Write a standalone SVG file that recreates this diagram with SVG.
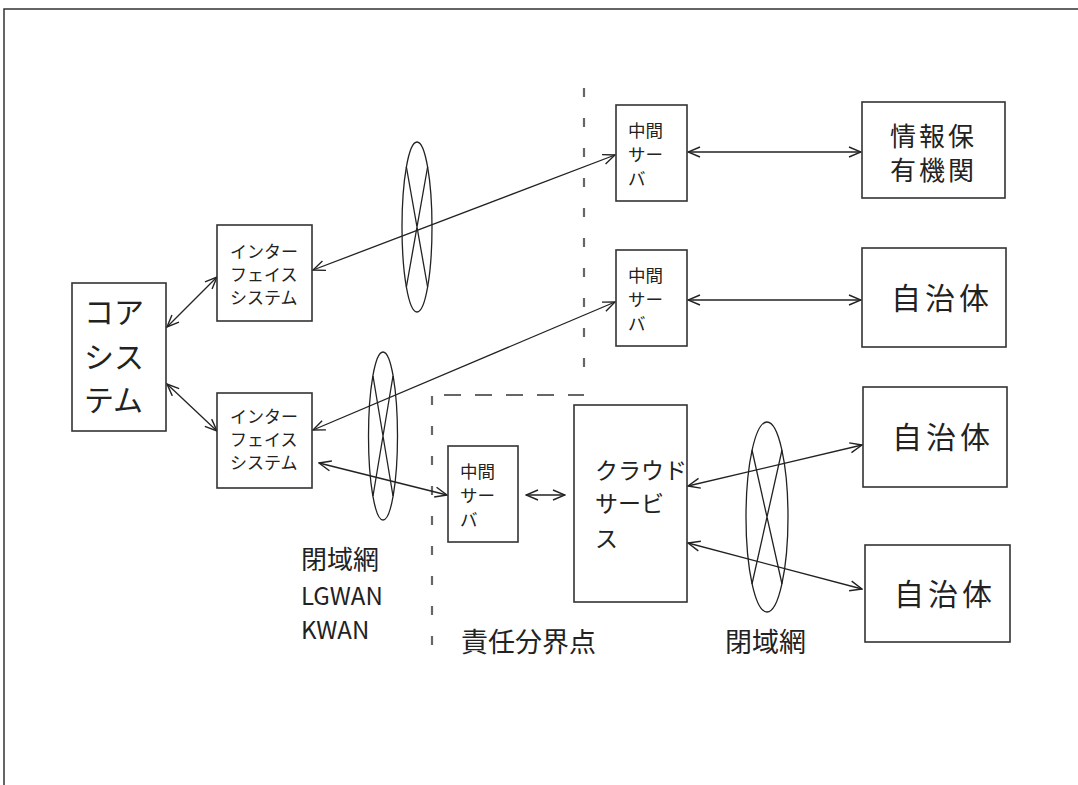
<svg xmlns="http://www.w3.org/2000/svg" width="1078" height="785" viewBox="0 0 1078 785">
<style>
.box{fill:#fff;stroke:#333;stroke-width:1.6}
.t{font-family:"Noto Sans CJK JP","Liberation Sans",sans-serif;fill:#222}
.ms{font-size:17.5px}
.con{stroke:#222;stroke-width:1.3;fill:none}
.ell{stroke:#222;stroke-width:1.3;fill:none}
.dv{stroke:#666;stroke-width:2.2;stroke-dasharray:9 21;fill:none}
.dh{stroke:#666;stroke-width:2.2;stroke-dasharray:17 14;fill:none}
</style>
<defs>
<marker id="ah" viewBox="0 0 14 12" refX="13" refY="6" markerWidth="14" markerHeight="12" markerUnits="userSpaceOnUse" orient="auto-start-reverse">
<path d="M1,1 L13,6 L1,11" fill="none" stroke="#222" stroke-width="1.4"/>
</marker>
</defs>
<rect width="1078" height="785" fill="#fff"/>
<path d="M4,785 L4,9 L1078,9" fill="none" stroke="#333" stroke-width="1.5"/>

<g id="boundary">
<line class="dv" x1="584" y1="88" x2="584" y2="382"/>
<line class="dh" x1="444" y1="395" x2="584" y2="395"/>
<line class="dv" x1="432" y1="396" x2="432" y2="656"/>
</g>

<g id="connectors">
<line class="con" x1="167" y1="327" x2="217" y2="277" marker-start="url(#ah)" marker-end="url(#ah)"/>
<line class="con" x1="167" y1="384" x2="217" y2="431" marker-start="url(#ah)" marker-end="url(#ah)"/>
<line class="con" x1="313" y1="270" x2="615" y2="155" marker-start="url(#ah)" marker-end="url(#ah)"/>
<line class="con" x1="313" y1="430" x2="615" y2="302" marker-start="url(#ah)" marker-end="url(#ah)"/>
<line class="con" x1="319" y1="463" x2="447" y2="495" marker-start="url(#ah)" marker-end="url(#ah)"/>
<line class="con" x1="526" y1="495" x2="565" y2="495" marker-start="url(#ah)" marker-end="url(#ah)"/>
<line class="con" x1="688" y1="152" x2="861" y2="152" marker-start="url(#ah)" marker-end="url(#ah)"/>
<line class="con" x1="688" y1="300" x2="861" y2="300" marker-start="url(#ah)" marker-end="url(#ah)"/>
<line class="con" x1="688" y1="486" x2="862" y2="445" marker-start="url(#ah)" marker-end="url(#ah)"/>
<line class="con" x1="688" y1="543" x2="862" y2="589" marker-start="url(#ah)" marker-end="url(#ah)"/>
</g>

<g id="network1">
<ellipse class="ell" cx="417" cy="227" rx="15" ry="85"/>
<path class="ell" d="M406.4,167 L427.6,287 M427.6,167 L406.4,287"/>
</g>
<g id="network2">
<ellipse class="ell" cx="383" cy="436" rx="14.5" ry="84"/>
<path class="ell" d="M373,376 L393,496 M393,376 L373,496"/>
</g>
<g id="network3">
<ellipse class="ell" cx="767" cy="517" rx="21" ry="95"/>
<path class="ell" d="M752,450 L782,584 M782,450 L752,584"/>
</g>

<g id="core">
<rect class="box" x="72" y="283" width="94" height="148"/>
<text class="t" font-size="30" x="84" y="323">コア</text>
<text class="t" font-size="30" x="84" y="368">シス</text>
<text class="t" font-size="30" x="84" y="411">テム</text>
</g>

<g id="if1">
<rect class="box" x="217" y="225" width="95" height="96"/>
<text class="t" font-size="17" x="230" y="258">インター</text>
<text class="t" font-size="17" x="230" y="281">フェイス</text>
<text class="t" font-size="17" x="230" y="304">システム</text>
</g>

<g id="if2">
<rect class="box" x="217" y="393" width="95" height="95"/>
<text class="t" font-size="17" x="230" y="423">インター</text>
<text class="t" font-size="17" x="230" y="446">フェイス</text>
<text class="t" font-size="17" x="230" y="469">システム</text>
</g>

<g id="ms1">
<rect class="box" x="616" y="105" width="71" height="96"/>
<text class="t ms" x="628" y="137">中間</text>
<text class="t ms" x="628" y="161">サー</text>
<text class="t ms" x="628" y="185">バ</text>
</g>

<g id="ms2">
<rect class="box" x="616" y="250" width="71" height="96"/>
<text class="t ms" x="628" y="282">中間</text>
<text class="t ms" x="628" y="306">サー</text>
<text class="t ms" x="628" y="330">バ</text>
</g>

<g id="ms3">
<rect class="box" x="448" y="446" width="70" height="96"/>
<text class="t ms" x="460" y="478">中間</text>
<text class="t ms" x="460" y="502">サー</text>
<text class="t ms" x="460" y="526">バ</text>
</g>

<g id="cloud">
<rect class="box" x="574" y="405" width="113" height="197"/>
<text class="t" font-size="23" x="595" y="479">クラウド</text>
<text class="t" font-size="23" x="595" y="512">サービ</text>
<text class="t" font-size="23" x="595" y="547">ス</text>
</g>

<g id="info">
<rect class="box" x="862" y="102" width="143" height="96"/>
<text class="t" font-size="26" letter-spacing="3" x="890" y="146">情報保</text>
<text class="t" font-size="26" letter-spacing="3" x="890" y="180">有機関</text>
</g>

<g id="lg1">
<rect class="box" x="862" y="248" width="144" height="99"/>
<text class="t" font-size="30" letter-spacing="4" x="891" y="309">自治体</text>
</g>
<g id="lg2">
<rect class="box" x="863" y="387" width="144" height="100"/>
<text class="t" font-size="30" letter-spacing="4" x="892" y="448">自治体</text>
</g>
<g id="lg3">
<rect class="box" x="865" y="545" width="145" height="97"/>
<text class="t" font-size="30" letter-spacing="4" x="894" y="605">自治体</text>
</g>

<g id="labels">
<text class="t" font-size="26" x="301" y="569">閉域網</text>
<text class="t" font-size="24" font-family="Liberation Sans" x="301" y="605">LGWAN</text>
<text class="t" font-size="24" font-family="Liberation Sans" x="301" y="639">KWAN</text>
<text class="t" font-size="27" x="461" y="652">責任分界点</text>
<text class="t" font-size="27" x="725" y="652">閉域網</text>
</g>
</svg>
